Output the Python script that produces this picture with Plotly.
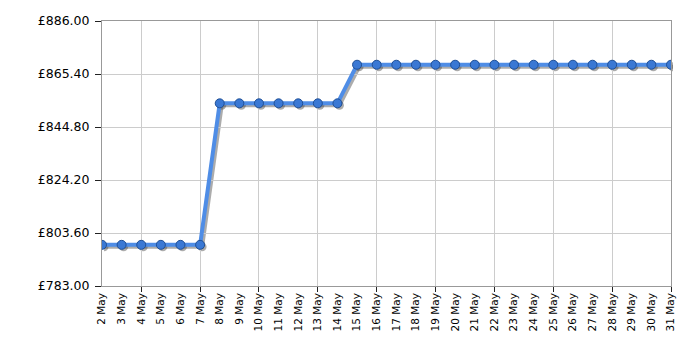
import plotly.graph_objects as go

dates = [f"{d} May" for d in range(2, 32)]
prices = [799.00] * 6 + [854.00] * 7 + [869.00] * 17
y_ticks = [783.0, 803.6, 824.2, 844.8, 865.4, 886.0]
y_tick_labels = [f"£{v:.2f}" for v in y_ticks]

grid_dates = dates[2::3]

W, H = 700, 350
L, R, T, B = 102, 671, 21, 286
off = 2
pw = R - L + off
ph = B - T + off
main_x = [0, (R - L) / pw]
main_y = [off / ph, 1]
sh_x = [off / pw, 1]
sh_y = [0, (B - T) / ph]

font = "DejaVu Sans, Verdana, sans-serif"

fig = go.Figure()
# shadow
fig.add_trace(go.Scatter(
    x=dates, y=prices, xaxis="x", yaxis="y", mode="lines+markers",
    line=dict(color="rgba(70,70,70,0.45)", width=4),
    marker=dict(size=9, color="rgba(70,70,70,0.45)"),
    hoverinfo="skip", showlegend=False))
# main line (on grid axis)
fig.add_trace(go.Scatter(
    x=dates, y=prices, xaxis="x2", yaxis="y2", mode="lines",
    line=dict(color="#4f8de6", width=4),
    hoverinfo="skip", showlegend=False))
# markers (on label axis)
fig.add_trace(go.Scatter(
    x=dates, y=prices, xaxis="x3", yaxis="y2", mode="markers",
    marker=dict(size=9, color="#3a78d4", line=dict(color="#1f4f96", width=1)),
    showlegend=False))

fig.update_layout(
    width=W, height=H,
    margin=dict(l=L, r=W - R - off, t=T, b=H - B - off, pad=0),
    paper_bgcolor="white", plot_bgcolor="rgba(0,0,0,0)",
    font=dict(family=font, color="black"),
    xaxis=dict(domain=sh_x, type="category", range=[0, len(dates) - 1],
               visible=False, anchor="y", fixedrange=True),
    yaxis=dict(domain=sh_y, range=[y_ticks[0], y_ticks[-1]],
               visible=False, anchor="x", fixedrange=True),
    xaxis2=dict(domain=main_x, type="category", range=[0, len(dates) - 1],
                categoryorder="array", categoryarray=dates,
                tickmode="array", tickvals=grid_dates, showticklabels=False,
                showgrid=True, gridcolor="#cccccc", gridwidth=1,
                ticks="outside", ticklen=5, tickcolor="#222", tickwidth=1,
                showline=True, linecolor="#999999", linewidth=1, mirror=True,
                zeroline=False, anchor="y2"),
    yaxis2=dict(domain=main_y, range=[y_ticks[0], y_ticks[-1]],
                tickmode="array", tickvals=y_ticks, ticktext=y_tick_labels,
                showgrid=True, gridcolor="#cccccc", gridwidth=1,
                ticks="outside", ticklen=6, tickcolor="#222", tickwidth=1,
                showline=True, linecolor="#999999", linewidth=1, mirror=True,
                zeroline=False, tickfont=dict(size=12.5, family=font, color="black"),
                ticklabelstandoff=3, anchor="x2"),
    xaxis3=dict(overlaying="x2", type="category", range=[0, len(dates) - 1],
                categoryorder="array", categoryarray=dates,
                tickmode="array", tickvals=dates, ticktext=dates,
                tickangle=-90, showgrid=False, ticks="", zeroline=False,
                showline=False, tickfont=dict(size=10.5, family=font, color="black"),
                ticklabelstandoff=4, anchor="y2", side="bottom"),
)

fig.write_html("out.html")
